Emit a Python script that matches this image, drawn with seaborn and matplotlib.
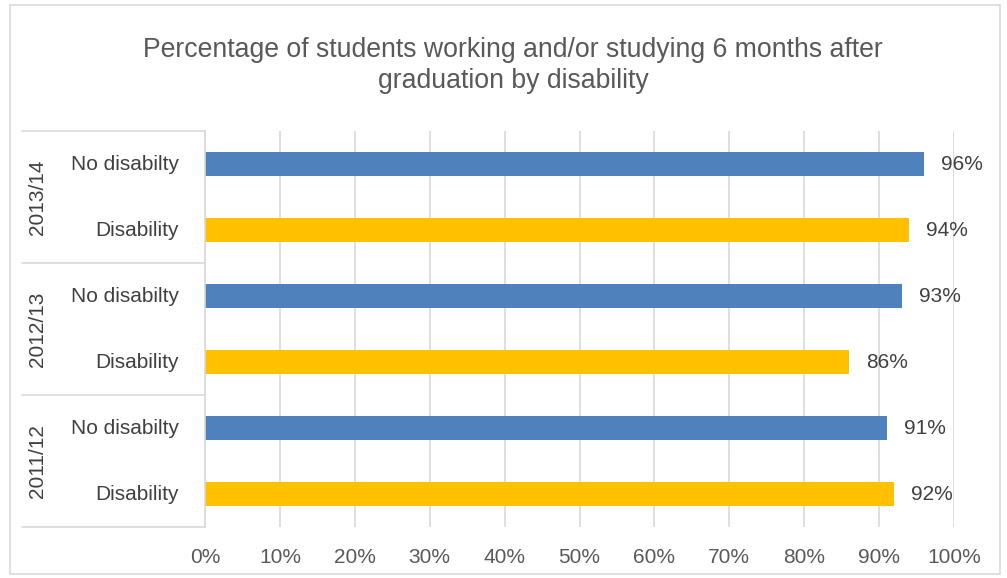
import matplotlib
matplotlib.use("Agg")
import matplotlib.pyplot as plt
from matplotlib.patches import Rectangle
from matplotlib.lines import Line2D
import seaborn as sns
import pandas as pd

# Data (top to bottom as displayed)
years = ["2013/14", "2013/14", "2012/13", "2012/13", "2011/12", "2011/12"]
groups = ["No disabilty", "Disability", "No disabilty", "Disability", "No disabilty", "Disability"]
values = [96, 94, 93, 86, 91, 92]
year_order = ["2013/14", "2012/13", "2011/12"]
x_ticks = [0, 10, 20, 30, 40, 50, 60, 70, 80, 90, 100]

colors = {"No disabilty": "#4F81BD", "Disability": "#FFC000"}

df = pd.DataFrame({"year": years, "group": groups, "value": values})
df["row"] = df["year"] + " " + df["group"]

sns.set_theme(style="white")
plt.rcParams["font.family"] = ["Liberation Sans", "DejaVu Sans"]

W, H = 1007, 578
fig = plt.figure(figsize=(W / 100, H / 100), dpi=100)

left, right, top, bottom = 205, 954, 131, 527
ax = fig.add_axes([left / W, 1 - bottom / H, (right - left) / W, (bottom - top) / H])

sns.barplot(data=df, y="row", x="value", hue="group", order=list(df["row"]),
            palette=colors, dodge=False, width=0.35, orient="h", ax=ax,
            legend=False, saturation=1, edgecolor="none")

ax.set_xlim(0, 100)
ax.set_ylim(len(df) - 0.5, -0.5)
ax.set_xticks(x_ticks)
ax.set_xticklabels([f"{t}%" for t in x_ticks], fontsize=15, color="#595959")
ax.tick_params(axis="x", length=0, pad=15)
ax.set_yticks([])
ax.set_xlabel("")
ax.set_ylabel("")
ax.xaxis.grid(True, color="#D9D9D9", linewidth=1.2)
ax.set_axisbelow(True)
for s in ["top", "right", "bottom"]:
    ax.spines[s].set_visible(False)
ax.spines["left"].set_color("#D9D9D9")
ax.spines["left"].set_linewidth(1.2)

# Value labels
for i, v in enumerate(values):
    ax.text(v + 2.3, i, f"{v}%", va="center", ha="left", fontsize=15, color="#404040")

# Multi-level category axis drawn in figure pixels
def fx(px):
    return px / W

def fy(py):
    return 1 - py / H

slot = (bottom - top) / len(df)
for i, g in enumerate(groups):
    yc = top + slot * (i + 0.5)
    fig.text(fx(179), fy(yc), g, ha="right", va="center", fontsize=15, color="#404040")

n_years = len(year_order)
gh = (bottom - top) / n_years
for k, y in enumerate(year_order):
    yc = top + gh * (k + 0.5)
    fig.text(fx(37), fy(yc), y, ha="center", va="center", rotation=90,
             fontsize=15, color="#404040")
for k in range(n_years + 1):
    yb = top + gh * k
    fig.add_artist(Line2D([fx(22), fx(left)], [fy(yb), fy(yb)], color="#D9D9D9", lw=1.2))

# Title
fig.text(fx(513), fy(50), "Percentage of students working and/or studying 6 months after",
         ha="center", va="center", fontsize=19.2, color="#595959")
fig.text(fx(513), fy(81), "graduation by disability",
         ha="center", va="center", fontsize=19.2, color="#595959")

# Chart border
fig.add_artist(Rectangle((fx(10), fy(574)), fx(990), 569 / H, fill=False,
                         edgecolor="#D9D9D9", lw=1.2))

fig.savefig("out.png", dpi=100)
